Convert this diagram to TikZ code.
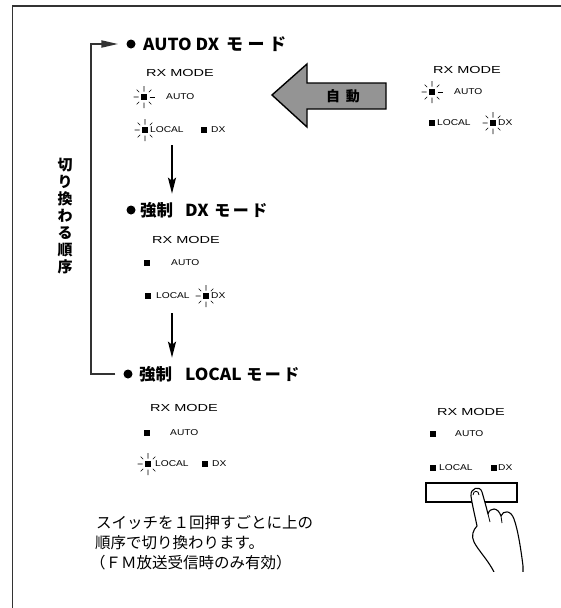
\documentclass[tikz,border=0pt]{standalone}
\usepackage{fontspec}
\usetikzlibrary{arrows.meta}
\newfontfamily\jp{Noto Sans CJK JP}
\newfontfamily\hb{Noto Sans CJK JP}[FakeStretch=1.05]
\newfontfamily\wide{Liberation Sans}[FakeStretch=1.42]
\newfontfamily\labf{Liberation Sans}[FakeStretch=1.2]
\newcommand\hgap[1]{\hspace{#1pt}}

\tikzset{
  frame/.style={line width=1.2pt, black!80},
  loopline/.style={line width=2pt, black!80},
  flow/.style={line width=1.8pt, -{Stealth[length=16pt,width=8pt,inset=3pt]}},
  dot/.style={circle, fill=black, inner sep=0pt, minimum size=9pt},
  head/.style={anchor=base west, inner sep=0pt},
  modetitle/.style={anchor=west, inner sep=0pt, font=\wide\fontsize{10.2}{12}\selectfont},
  lab/.style={anchor=west, inner sep=0pt, font=\labf\fontsize{8.5}{10}\selectfont},
  jtext/.style={anchor=west, inner sep=0pt, font=\jp\fontsize{15.5}{20}\selectfont},
  ledoff/.pic={\fill (-3.3,-3.3) rectangle (3.3,3.3);},
  ledrays/.pic={
    \fill (-3.3,-3.3) rectangle (3.3,3.3);
    \draw[line width=0.6pt] (-5.5,0) -- (-10.5,0) (0,-5.5) -- (0,-11) (0,5.5) -- (0,11)
      (-4.8,-4.8) -- (-7.3,-7.3) (4.8,-4.8) -- (7.3,-7.3)
      (-4.8,4.8) -- (-7.3,7.3) (4.8,4.8) -- (7.3,7.3);},
  ledon/.pic={\pic {ledrays}; \draw[line width=0.6pt] (5.5,0) -- (10.5,0);},
}
% heading fonts
\newcommand\hlat{\hb\fontsize{16.5}{18}\selectfont\bfseries}
\newcommand\hjp[1]{\jp\fontsize{#1}{18}\selectfont\bfseries}

\begin{document}
\begin{tikzpicture}[x=1pt,y=-1pt]
\path[use as bounding box] (0,0) rectangle (561,608);

% open frame: top and left edges only
\draw[frame] (561,6) -- (12.5,6) -- (12.5,608);

% ---- headings of the three modes ----
\node[dot] (b1) at (131,44) {};
\node[head] (h1) at (143,50) {{\hlat AUTO DX}\hgap{3}{\hjp{17} モ\hgap{4.5}ー\hgap{4.5}ド}};

\node[dot] (b2) at (131,210) {};
\node[head] (h2) at (140,216) {{\hjp{16.5}強制}\hgap{12}{\hlat DX}\hgap{2}{\hjp{16} モ\hgap{2.5}ー\hgap{2.5}ド}};

\node[dot] (b3) at (128,374) {};
\node[head] (h3) at (139,380) {{\hjp{16.5}強制}\hgap{13}{\hlat LOCAL}\hgap{1}{\hjp{16} モ\hgap{2.5}ー\hgap{2.5}ド}};

% ---- panel: AUTO DX ----
\node[modetitle] (m1) at (146,73) {RX MODE};
\pic at (144,97) {ledon};
\node[lab] (m1a) at (166,97) {AUTO};
\pic at (145,130) {ledrays};
\node[lab] (m1l) at (150,130) {LOCAL};
\pic at (204,130) {ledoff};
\node[lab] (m1d) at (211,130) {DX};

% ---- panel: forced DX ----
\node[modetitle] (m2) at (152,240) {RX MODE};
\pic at (147,263) {ledoff};
\node[lab] (m2a) at (171,263) {AUTO};
\pic at (148,296) {ledoff};
\node[lab] (m2l) at (156,296) {LOCAL};
\pic at (206,296) {ledrays};
\node[lab] (m2d) at (211,296) {DX};

% ---- panel: forced LOCAL ----
\node[modetitle] (m3) at (150,408) {RX MODE};
\pic at (147,433) {ledoff};
\node[lab] (m3a) at (170,433) {AUTO};
\pic at (148,464) {ledrays};
\node[lab] (m3l) at (155,464) {LOCAL};
\pic at (205,464) {ledoff};
\node[lab] (m3d) at (212,464) {DX};

% ---- panel: automatic (right, top) ----
\node[modetitle] (m4) at (433,70) {RX MODE};
\pic at (432,92) {ledon};
\node[lab] (m4a) at (454,92) {AUTO};
\pic at (432,123) {ledoff};
\node[lab] (m4l) at (437,123) {LOCAL};
\pic at (493,123) {ledrays};
\node[lab] (m4d) at (498,123) {DX};

% ---- panel: switch (right, bottom) ----
\node[modetitle] (m5) at (437,412) {RX MODE};
\pic at (433,434) {ledoff};
\node[lab] (m5a) at (455,434) {AUTO};
\pic at (433,468) {ledoff};
\node[lab] (m5l) at (439,468) {LOCAL};
\pic at (494,468) {ledoff};
\node[lab] (m5d) at (498,468) {DX};

% ---- order arrows ----
\coordinate (a1) at (172,145);
\coordinate (a2) at (172,313);
\draw[flow, shorten >=8pt] (a1) -- (a1 |- h2.north);
\draw[flow, shorten >=8pt] (a2) -- (a2 |- h3.north);

% ---- cycle back to the first mode ----
\coordinate (lb) at (91,374);
\coordinate (lt) at (91,44);
\draw[loopline, -{Triangle[length=17pt,width=7pt]}]
  ([xshift=-8pt]b3.west) -- (lb) -- (lt) -- ([xshift=-8pt]b1.west);

\node[anchor=center, inner sep=0pt, align=center, font=\jp\fontsize{15}{17}\selectfont\bfseries] (order) at (65,216)
  {切\\り\\換\\わ\\る\\順\\序};

% ---- big "automatic" arrow ----
\draw[line width=1.4pt, fill=black!42, line join=miter]
  (272,95) -- (307,64) -- (307,83) -- (386,83) -- (386,109) -- (307,109) -- (307,127) -- cycle;
\node[inner sep=0pt, font=\jp\fontsize{14}{16}\selectfont\bfseries] (auto) at (343,96) {自\hgap{6}動};

% ---- push button and hand ----
\draw[line width=1.2pt] (426,483) rectangle (517,502);
\draw[line width=2pt] (426,483) -- (426,502) -- (517,502);
\draw[line width=1.1pt, fill=white, line join=round]
  (494,572) .. controls (488,560) and (478,550) .. (474,542)
  .. controls (471,536) and (473,530) .. (477,526)
  .. controls (475,516) and (472,504) .. (471,496)
  .. controls (470,488) and (480,485) .. (482,492)
  .. controls (484,499) and (486,506) .. (488,514)
  .. controls (490,507) and (498,507) .. (501,516)
  .. controls (503,510) and (511,510) .. (514,519)
  .. controls (518,530) and (521,550) .. (523,566)
  -- (523,575) -- (494,575) -- cycle;
\fill[white] (490,572) rectangle (530,580);
\draw[line width=0.8pt] (473,495) .. controls (473,490) and (479,490) .. (479,495);
\draw[line width=0.8pt] (488,514) -- (490,522);
\draw[line width=0.8pt] (501,516) -- (502,523);

% ---- explanatory note ----
\node[jtext] (t1) at (96,523) {スイッチを１回押すごとに上の};
\node[jtext] (t2) at (95,543) {順序で切り換わります。};
\node[jtext] (t3) at (90,563) {（ＦＭ放送受信時のみ有効）};
\end{tikzpicture}
\end{document}
